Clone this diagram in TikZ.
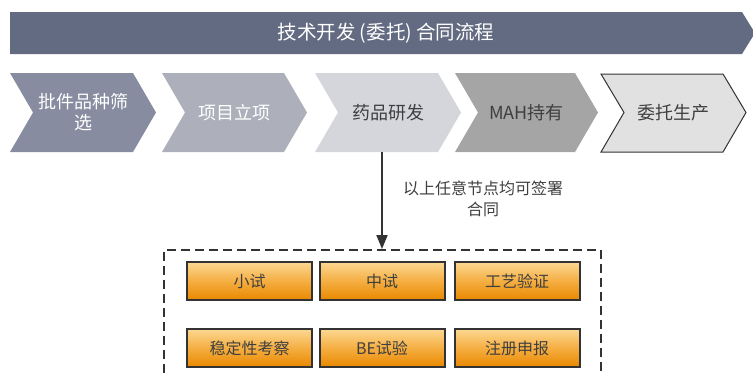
\documentclass[tikz,border=0pt]{standalone}
\usepackage{fontspec}
\setmainfont{Noto Sans CJK SC}
\usetikzlibrary{arrows.meta}
\definecolor{bannerc}{HTML}{636B82}
\definecolor{chevA}{HTML}{878CA0}
\definecolor{chevB}{HTML}{ADB0BB}
\definecolor{chevC}{HTML}{D5D6DC}
\definecolor{chevD}{HTML}{A5A5A5}
\definecolor{chevE}{HTML}{E1E1E1}
\definecolor{darktext}{HTML}{3F3F3F}
\definecolor{linec}{HTML}{333333}
\definecolor{orgtop}{HTML}{FCD892}
\definecolor{orgmid}{HTML}{F5AE42}
\definecolor{orgbot}{HTML}{E98800}
\tikzset{
  chevtext/.style={font=\fontsize{18}{21}\selectfont, align=center, inner sep=0pt},
  stepbox/.style={draw=linec, line width=2pt, minimum width=125pt, minimum height=38pt,
    inner sep=0pt, top color=orgtop, bottom color=orgbot, middle color=orgmid,
    text=darktext, font=\fontsize{16}{18}\selectfont},
  groupbox/.style={draw=linec, line width=2pt, dash pattern=on 9pt off 5pt,
    minimum width=437pt, minimum height=160pt, inner sep=0pt},
  flowarrow/.style={draw=linec, line width=2pt, -{Triangle[length=14pt,width=11pt]}},
}
\begin{document}
\begin{tikzpicture}[x=1pt,y=-1pt]
\useasboundingbox (0,0) rectangle (753,373);
\clip (0,0) rectangle (753,373);
% banner
\fill[bannerc] (10,12) -- (742,12) -- (755,33) -- (742,54) -- (10,54) -- cycle;
\node[text=white, font=\fontsize{19.5}{22}\selectfont, inner sep=0pt] (title) at (386,33) {技术开发 (委托) 合同流程};
% chevrons
\fill[chevA] (10,73) -- (133,73) -- (156,112.5) -- (133,152) -- (10,152) -- (33,112.5) -- cycle;
\node[chevtext, text=white] (c1) at (83,112.5) {批件品种筛\\选};
\fill[chevB] (162,73) -- (284,73) -- (307,112.5) -- (284,152) -- (162,152) -- (185,112.5) -- cycle;
\node[chevtext, text=white] (c2) at (234.5,112.5) {项目立项};
\fill[chevC] (315,73) -- (438,73) -- (461,112.5) -- (438,152) -- (315,152) -- (338,112.5) -- cycle;
\node[chevtext, text=darktext] (c3) at (388,112.5) {药品研发};
\fill[chevD] (455,73) -- (575,73) -- (598,112.5) -- (575,152) -- (455,152) -- (478,112.5) -- cycle;
\node[chevtext, text=darktext] (c4) at (526.5,112.5) {MAH持有};
\filldraw[fill=chevE, draw=linec, line width=1pt] (601,74) -- (723,74) -- (746,112.5) -- (723,152) -- (601,152) -- (624,112.5) -- cycle;
\node[chevtext, text=darktext] (c5) at (673.5,112.5) {委托生产};
% arrow and group
\coordinate (c3b) at (382,152);
\node[groupbox, anchor=north] (grp) at (382.5,249) {};
\draw[flowarrow] (c3b) -- (c3b |- grp.north);
\node[text=darktext, font=\fontsize{16}{21}\selectfont, align=center, inner sep=0pt] (lbl) at (483,198.5) {以上任意节点均可签署\\合同};
% step boxes
\node[stepbox] (b1) at (249.5,281) {小试};
\node[stepbox] (b2) at (382,281) {中试};
\node[stepbox] (b3) at (517,281) {工艺验证};
\node[stepbox] (b4) at (249.5,348) {稳定性考察};
\node[stepbox] (b5) at (382,348) {BE试验};
\node[stepbox] (b6) at (517,348) {注册申报};
\end{tikzpicture}
\end{document}
